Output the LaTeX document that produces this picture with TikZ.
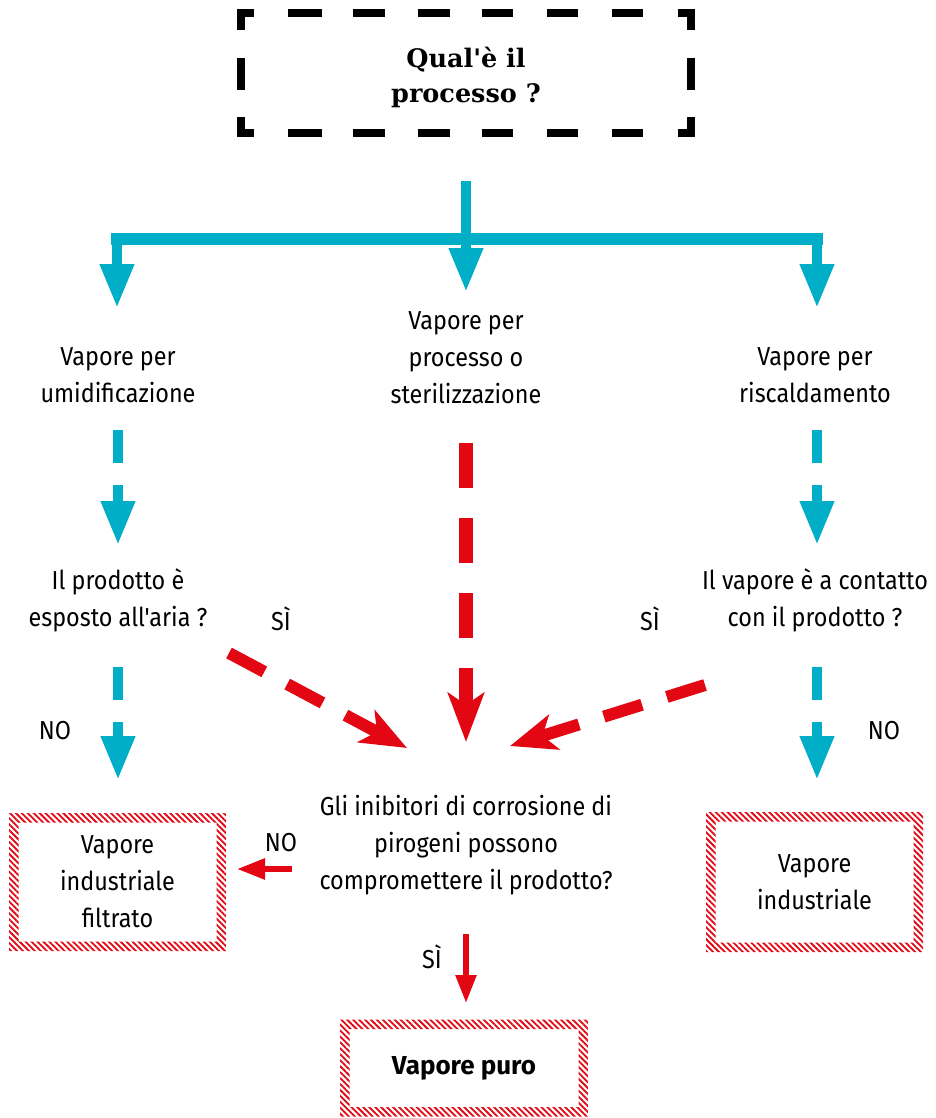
\documentclass[tikz,border=0pt]{standalone}
\usepackage{fontspec}
\usetikzlibrary{arrows.meta,patterns.meta}
\newfontfamily\bodyf{Fira Sans}[FakeStretch=0.9]
\newfontfamily\boldf{Fira Sans Bold}
\newfontfamily\titlef{DejaVu Serif}
\definecolor{cblue}{RGB}{0,174,200}
\definecolor{cred}{RGB}{227,6,19}
\tikzset{
  txt/.style={font=\bodyf\fontsize{26}{37}\selectfont, align=center, inner sep=0pt},
  ttl/.style={font=\titlef\bfseries\fontsize{25.5}{35}\selectfont, align=center, inner sep=0pt},
  blarrow/.style={draw=cblue, line width=10pt, -{Triangle[length=44pt,width=32pt]}},
  bldash/.style={blarrow, dash pattern=on 33pt off 22pt on 200pt},
  rdarrow/.style={draw=cred, line width=14pt, dash pattern=on 45pt off 30pt, -{Stealth[length=49pt,width=36pt,inset=12pt]}},
  rddiag/.style={draw=cred, line width=12pt, dash pattern=on 40pt off 26pt, -{Stealth[length=46pt,width=36pt,inset=12pt]}},
  rdsmall/.style={draw=cred, line width=5.5pt, -{Triangle[length=28pt,width=20pt]}},
  tdash/.style={draw=black, line width=8pt, line join=miter},
  hatchbox/.style={txt, path picture={
      \fill[pattern={Lines[angle=-45,distance=4.2pt,line width=1.8pt]}, pattern color=cred, even odd rule]
        (path picture bounding box.north west) rectangle (path picture bounding box.south east)
        ([xshift=9.5pt,yshift=-9.5pt]path picture bounding box.north west) rectangle ([xshift=-9.5pt,yshift=9.5pt]path picture bounding box.south east);}},
}
\begin{document}
\begin{tikzpicture}[x=1pt,y=-1pt]
\useasboundingbox (0,0) rectangle (935,1118);
\fill[white] (0,0) rectangle (935,1118);

% title
\node[ttl] (title) at (466,77) {Qual'è il\\processo ?};
\draw[tdash] (241,30) -- (241,13) -- (254,13);
\draw[tdash] (678,13) -- (691,13) -- (691,30);
\draw[tdash] (241,117) -- (241,133) -- (254,133);
\draw[tdash] (678,133) -- (691,133) -- (691,117);
\foreach \a/\b in {288/322,353/385,418/450,482/513,547/578,612/643}{
  \draw[tdash] (\a,13) -- (\b,13);
  \draw[tdash] (\a,133) -- (\b,133);
}
\draw[tdash] (241,58) -- (241,90);
\draw[tdash] (691,58) -- (691,90);

% level 1 texts
\node[txt] (umid) at (118,375) {Vapore per\\umidificazione};
\node[txt] (proc) at (466,358) {Vapore per\\processo o\\sterilizzazione};
\node[txt] (risc) at (815,375) {Vapore per\\riscaldamento};

% level 2 texts
\node[txt] (espo) at (118,600) {Il prodotto è\\esposto all'aria ?};
\node[txt] (cont) at (815,600) {Il vapore è a contatto\\con il prodotto ?};
\node[txt] (gli) at (466,845) {Gli inibitori di corrosione di\\pirogeni possono\\compromettere il prodotto?};

% labels
\node[txt] (si1) at (281,619) {SÌ};
\node[txt] (si2) at (650,619) {SÌ};
\node[txt] (no1) at (55,731) {NO};
\node[txt] (no2) at (884,731) {NO};
\node[txt] (no3) at (281,843) {NO};
\node[txt] (si3) at (432,957) {SÌ};

% result boxes
\node[hatchbox, minimum width=217pt, minimum height=138pt] (filt) at (117.5,882) {Vapore\\industriale\\filtrato};
\node[hatchbox, minimum width=217pt, minimum height=140pt] (indu) at (814.5,882) {Vapore\\industriale};
\node[hatchbox, minimum width=248pt, minimum height=97pt, font=\boldf\fontsize{26}{37}\selectfont] (puro) at (464,1068) {Vapore puro};

% blue top split
\coordinate (stem) at (466,181);
\coordinate (split) at (466,239);
\coordinate (lc) at (117,239);
\coordinate (rc) at (817,239);
\coordinate (la) at (117,308);
\coordinate (ma) at (466,292);
\coordinate (ra) at (817,308);
\draw[draw=cblue, line width=10pt] (stem) -- (split);
\draw[draw=cblue, line width=12pt] ([xshift=-6pt]lc) -- ([xshift=6pt]rc);
\draw[blarrow] (lc) -- (la);
\draw[blarrow] (split) -- (ma);
\draw[blarrow] (rc) -- (ra);

% blue dashed arrows
\coordinate (l1s) at (118,430); \coordinate (l1e) at (118,545);
\coordinate (l2s) at (118,667); \coordinate (l2e) at (118,780);
\coordinate (r1s) at (817,430); \coordinate (r1e) at (817,545);
\coordinate (r2s) at (817,667); \coordinate (r2e) at (817,780);
\draw[bldash] (l1s) -- (l1e);
\draw[bldash] (l2s) -- (l2e);
\draw[bldash] (r1s) -- (r1e);
\draw[bldash] (r2s) -- (r2e);

% red arrows
\coordinate (cs) at (466,443); \coordinate (ce) at (466,742);
\coordinate (ls) at (229,653); \coordinate (le) at (407,748);
\coordinate (rs) at (705,685); \coordinate (re) at (510,746);
\draw[rdarrow] (cs) -- (ce);
\draw[rddiag] (ls) -- (le);
\draw[rddiag] (rs) -- (re);
\coordinate (ns) at (292,869); \coordinate (ne) at (237,869);
\draw[rdsmall] (ns) -- (ne);
\coordinate (ss) at (466,934); \coordinate (se) at (466,1003);
\draw[rdsmall] (ss) -- (se);
\end{tikzpicture}
\end{document}
